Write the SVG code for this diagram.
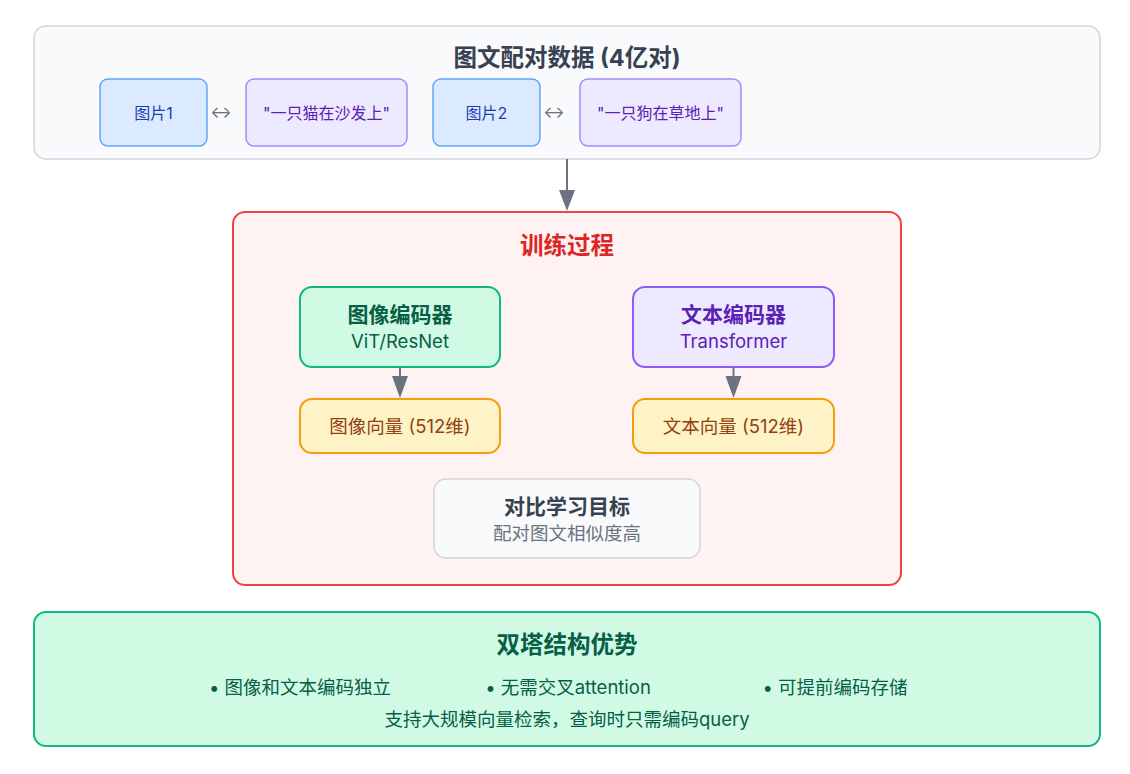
<svg xmlns="http://www.w3.org/2000/svg" width="1130" height="774" viewBox="0 0 1130 774">
<style>
text{font-family:Inter,"Noto Sans CJK SC",sans-serif;text-anchor:middle;dominant-baseline:central}
.h{font-weight:700}
.t1{font-size:23.5px}
.t2{font-size:21px}
.t3{font-size:18.5px}
.t4{font-size:16px}
.img{fill:#dbeafe;stroke:#60a5fa;stroke-width:1.5}
.txt{fill:#ede9fe;stroke:#a78bfa;stroke-width:1.5}
.vec{fill:#fef3c7;stroke:#f59e0b;stroke-width:2}
.conn{stroke:#6b7280;stroke-width:2;fill:none}
.head{fill:#6b7280}
</style>
<rect width="1130" height="774" fill="#ffffff"/>
<g id="data">
<rect x="34" y="26" width="1066" height="133" rx="12" fill="#f9fafb" stroke="#d1d5db" stroke-width="1.5"/>
<text x="567" y="57" class="h t1" fill="#374151">图文配对数据 (4亿对)</text>
</g>
<g id="img1"><rect x="100" y="79" width="107" height="67" rx="8" class="img"/><text x="153.5" y="113" class="t4" fill="#1e40af">图片1</text></g>
<g id="pair1"><text x="221" y="112" class="t4" fill="#6b7280">↔</text></g>
<g id="cap1"><rect x="246" y="79" width="161" height="67" rx="8" class="txt"/><text x="326.5" y="113" class="t4" fill="#5b21b6">"一只猫在沙发上"</text></g>
<g id="img2"><rect x="433" y="79" width="107" height="67" rx="8" class="img"/><text x="486.5" y="113" class="t4" fill="#1e40af">图片2</text></g>
<g id="pair2"><text x="554" y="112" class="t4" fill="#6b7280">↔</text></g>
<g id="cap2"><rect x="580" y="79" width="161" height="67" rx="8" class="txt"/><text x="660.5" y="113" class="t4" fill="#5b21b6">"一只狗在草地上"</text></g>

<g id="training">
<rect x="233" y="212" width="668" height="373" rx="12" fill="#fef2f2" stroke="#ef4444" stroke-width="2"/>
<text x="567" y="245" class="h t1" fill="#dc2626">训练过程</text>
</g>
<g id="imgenc"><rect x="300" y="287" width="200" height="80" rx="12" fill="#d1fae5" stroke="#10b981" stroke-width="2"/>
<text x="400" y="314" class="h t2" fill="#065f46">图像编码器</text>
<text x="400" y="341" class="t3" fill="#065f46">ViT/ResNet</text></g>
<g id="txtenc"><rect x="633" y="287" width="201" height="80" rx="12" fill="#ede9fe" stroke="#8b5cf6" stroke-width="2"/>
<text x="733.5" y="314" class="h t2" fill="#5b21b6">文本编码器</text>
<text x="733.5" y="341" class="t3" fill="#5b21b6">Transformer</text></g>
<g id="imgvec"><rect x="300" y="399" width="200" height="54" rx="12" class="vec"/><text x="400" y="426" class="t3" fill="#92400e">图像向量 (512维)</text></g>
<g id="txtvec"><rect x="633" y="399" width="201" height="54" rx="12" class="vec"/><text x="733.5" y="426" class="t3" fill="#92400e">文本向量 (512维)</text></g>
<g id="goal"><rect x="434" y="479" width="266" height="79" rx="12" fill="#f9fafb" stroke="#d1d5db" stroke-width="1.5"/>
<text x="567" y="506" class="h t2" fill="#374151">对比学习目标</text>
<text x="567" y="533" class="t3" fill="#6b7280">配对图文相似度高</text></g>

<g id="advantage">
<rect x="34" y="612" width="1066" height="134" rx="12" fill="#d1fae5" stroke="#10b981" stroke-width="2"/>
<text x="567" y="644" class="h t1" fill="#065f46">双塔结构优势</text>
<text x="300" y="687" class="t3" fill="#065f46">• 图像和文本编码独立</text>
<text x="568" y="687" class="t3" fill="#065f46">• 无需交叉attention</text>
<text x="835" y="687" class="t3" fill="#065f46">• 可提前编码存储</text>
<text x="567" y="719" class="t3" fill="#065f46">支持大规模向量检索，查询时只需编码query</text>
</g>

<g id="connectors">
<line x1="567" y1="159" x2="567" y2="192" class="conn"/>
<polygon points="559,190 575,190 567,211" class="head"/>
<line x1="400" y1="367" x2="400" y2="378" class="conn"/>
<polygon points="392,376 408,376 400,398" class="head"/>
<line x1="733.5" y1="367" x2="733.5" y2="378" class="conn"/>
<polygon points="725.5,376 741.5,376 733.5,398" class="head"/>
</g>
</svg>
